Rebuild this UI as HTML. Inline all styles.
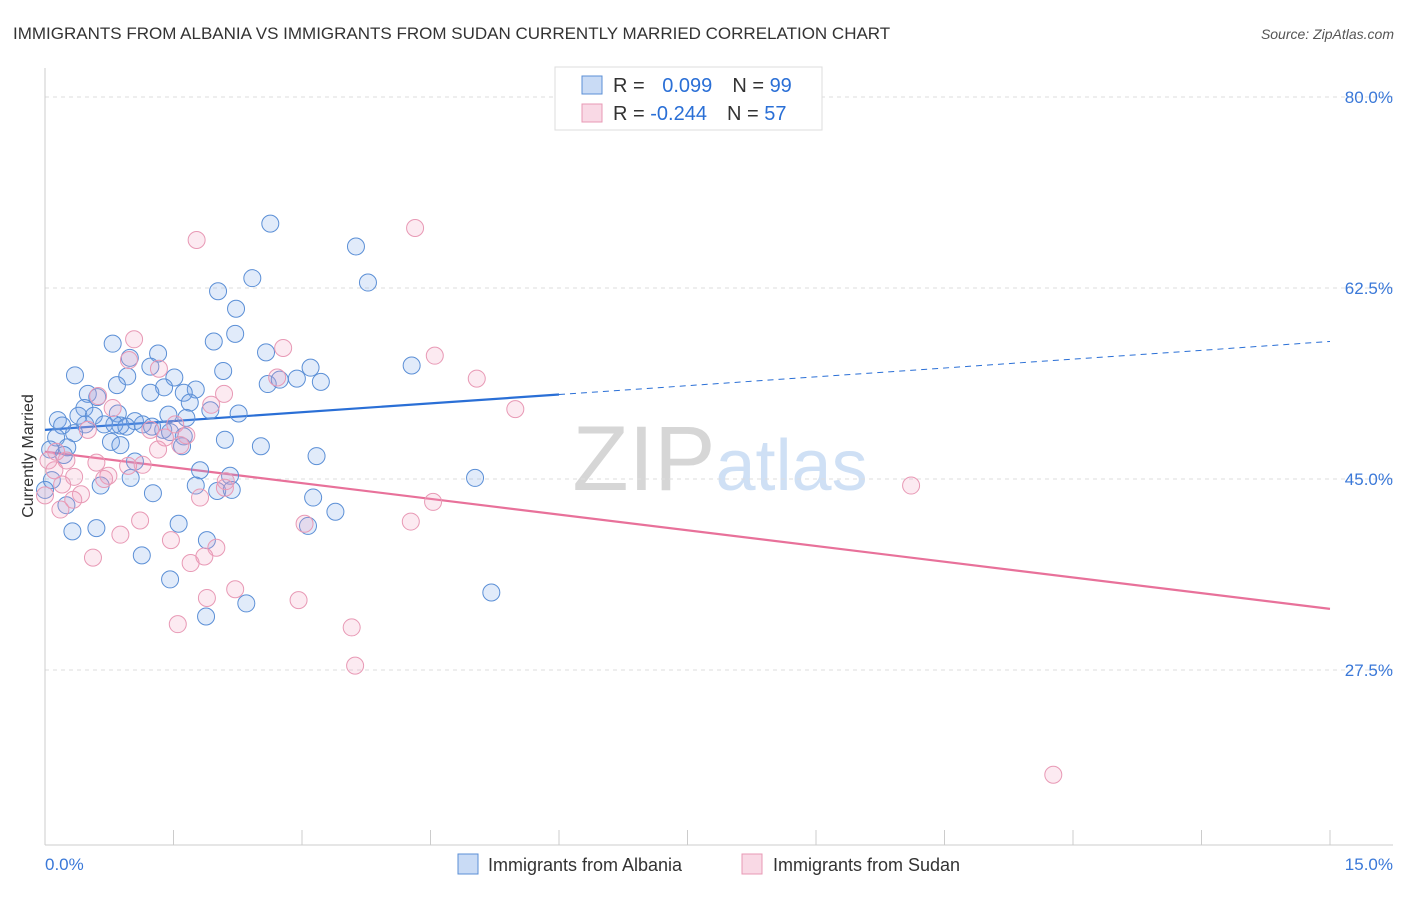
<!DOCTYPE html>
<html><head><meta charset="utf-8"><style>
body{margin:0;background:#fff;font-family:"Liberation Sans",sans-serif;}
svg text{font-family:"Liberation Sans",sans-serif;}
</style></head><body>
<svg id="chart" width="1406" height="892" xmlns="http://www.w3.org/2000/svg">
<text x="13" y="39" font-size="17" fill="#333">IMMIGRANTS FROM ALBANIA VS IMMIGRANTS FROM SUDAN CURRENTLY MARRIED CORRELATION CHART</text>
<text x="1394" y="39" font-size="14" fill="#555" text-anchor="end" font-style="italic">Source: ZipAtlas.com</text>
<text x="720" y="490" font-size="92" text-anchor="middle" fill="#ddd" font-family="Liberation Serif"><tspan fill="#d6d6d6">ZIP</tspan><tspan fill="#cfe0f5" font-family="Liberation Sans" font-size="72">atlas</tspan></text>
<g id="grid"></g>
<g id="axes"></g>
<g id="trend"></g>
<g id="pts"></g>
<text transform="translate(33,456) rotate(-90)" font-size="16" fill="#333" text-anchor="middle">Currently Married</text>
<g>
<rect x="555" y="67" width="267" height="63" fill="#fff" stroke="#ddd"/>
<rect x="582" y="76" width="20" height="18" fill="rgba(120,165,230,0.4)" stroke="#5b8fd6"/>
<rect x="582" y="104" width="20" height="18" fill="rgba(240,160,190,0.4)" stroke="#e899b5"/>
<text x="613" y="92" font-size="20" fill="#333">R = <tspan fill="#2a6fd6" dx="12">0.099</tspan><tspan dx="20" fill="#333">N = </tspan><tspan fill="#2a6fd6">99</tspan></text>
<text x="613" y="120" font-size="20" fill="#333">R = <tspan fill="#2a6fd6">-0.244</tspan><tspan dx="20" fill="#333">N = </tspan><tspan fill="#2a6fd6">57</tspan></text>
</g>
<g>
<rect x="458" y="854" width="20" height="20" fill="rgba(120,165,230,0.4)" stroke="#5b8fd6"/>
<text x="488" y="871" font-size="18" fill="#333">Immigrants from Albania</text>
<rect x="742" y="854" width="20" height="20" fill="rgba(240,160,190,0.4)" stroke="#e899b5"/>
<text x="773" y="871" font-size="18" fill="#333">Immigrants from Sudan</text>
</g>
</svg>
<script>
const yTicks=[80,62.5,45,27.5];
const yTickLabels=["80.0%","62.5%","45.0%","27.5%"];
const xTickCount=10;
const blueX=[2.63,3.63,3.77,2.42,2.02,2.23,2.22,1.97,0.79,1.32,2.58,0.99,1.23,3.10,4.28,0.35,0.96,1.51,2.08,2.94,2.60,3.22,2.74,0.84,1.39,0.50,1.76,1.23,1.62,0.61,0.46,1.69,1.93,2.26,1.44,0.85,0.15,0.39,0.57,0.69,1.05,1.14,1.65,0.88,0.81,0.47,0.20,0.34,1.38,1.25,1.46,1.62,0.95,0.13,0.77,0.88,1.60,2.10,2.52,0.26,0.22,3.17,1.05,1.81,2.16,1.00,0.65,1.76,2.01,2.18,1.26,3.13,5.02,0.25,3.39,3.07,1.56,0.32,0.60,1.89,1.13,1.46,2.35,1.88,5.21,0.08,0.06,0.0];
const blueY=[68.4,66.3,63.0,63.4,62.2,60.6,58.3,57.6,57.4,56.5,56.6,56.1,55.3,55.2,55.4,54.5,54.4,54.3,54.9,54.2,53.7,53.9,54.1,53.6,53.4,52.8,53.2,52.9,52.9,52.5,51.5,52.0,51.3,51.0,50.9,51.0,50.4,50.8,50.8,50.0,50.3,50.0,50.6,49.9,50.0,50.0,49.9,49.2,49.5,49.8,49.3,48.9,49.8,48.8,48.4,48.1,48.0,48.6,48.0,47.9,47.2,47.1,46.6,45.8,45.3,45.1,44.4,44.4,43.9,44.0,43.7,43.3,45.1,42.6,42.0,40.7,40.9,40.2,40.5,39.4,38.0,35.8,33.6,32.4,34.6,44.9,47.7,44.0];
const pinkX=[1.77,4.32,1.04,2.78,4.55,0.98,1.33,2.71,5.04,2.09,0.62,1.94,5.49,0.79,1.23,0.50,1.65,1.40,1.32,0.25,0.11,0.60,0.74,0.69,0.34,1.14,0.97,2.11,0.20,0.42,1.81,0.33,4.53,10.11,1.11,3.03,4.27,0.88,1.47,2.00,1.70,0.56,1.86,1.89,2.22,2.96,1.55,3.58,3.62,11.77,0.0,0.04,0.13,2.10,1.58,0.18,1.52];
const pinkY=[66.9,68.0,57.8,57.0,56.3,55.9,55.1,54.3,54.2,52.8,52.6,51.8,51.4,51.5,49.5,49.5,49.0,48.8,47.7,46.7,45.8,46.5,45.3,45.0,45.2,46.3,46.2,44.8,44.5,43.6,43.3,43.1,42.9,44.4,41.2,40.9,41.1,39.9,39.4,38.7,37.3,37.8,37.9,34.1,34.9,33.9,31.7,31.4,27.9,17.9,43.5,46.7,47.5,44.2,48.1,42.2,50.0];
const blueTrend=[49.5,57.6];
const pinkTrend=[47.5,33.1];
const NS="http://www.w3.org/2000/svg";
const X=v=>45+v/15*1285;
const Y=v=>97+(80-v)/17.5*191;
function mk(t,a,p){const e=document.createElementNS(NS,t);for(const k in a)e.setAttribute(k,a[k]);p.appendChild(e);return e;}
const grid=document.getElementById('grid'),axes=document.getElementById('axes'),trend=document.getElementById('trend'),pts=document.getElementById('pts');
yTicks.forEach((t,i)=>{
 const l=mk('line',{x1:45,x2:1393,y1:Y(t),y2:Y(t),stroke:'#ddd','stroke-dasharray':'4,4'},grid);
 
 
 const tx=mk('text',{x:1393,y:Y(t)+6,'font-size':17,fill:'#3a78d8','text-anchor':'end'},axes);
 tx.textContent=yTickLabels[i];
 
 
});
mk('line',{x1:45,x2:45,y1:68,y2:845,stroke:'#ccc'},axes);
mk('line',{x1:45,x2:1393,y1:845,y2:845,stroke:'#ccc'},axes);
for(let i=0;i<=xTickCount;i++){const xv=i*15/xTickCount;const t=mk('line',{x1:X(xv),x2:X(xv),y1:830,y2:845,stroke:'#ccc'},axes);
 
 }
const xl=mk('text',{x:45,y:870,'font-size':17,fill:'#3a78d8'},axes);xl.textContent='0.0%';


const xr=mk('text',{x:1393,y:870,'font-size':17,fill:'#3a78d8','text-anchor':'end'},axes);xr.textContent='15.0%';


function plot(xs,ys,stroke,fill,name){xs.forEach((x,i)=>{const c=mk('circle',{cx:X(x),cy:Y(ys[i]),r:8.5,fill:fill,stroke:stroke,'stroke-width':1},pts);
 
 });}
plot(blueX,blueY,'#5b8fd6','rgba(120,165,230,0.22)','albania-point');
plot(pinkX,pinkY,'#e899b5','rgba(240,160,190,0.22)','sudan-point');
const bAt=x=>blueTrend[0]+(blueTrend[1]-blueTrend[0])*x/15;
const b1=mk('line',{x1:X(0),y1:Y(bAt(0)),x2:X(6),y2:Y(bAt(6)),stroke:'#2a6fd6','stroke-width':2.2},trend);


const b2=mk('line',{x1:X(6),y1:Y(bAt(6)),x2:X(15),y2:Y(bAt(15)),stroke:'#2a6fd6','stroke-width':1,'stroke-dasharray':'6,5'},trend);


const p1=mk('line',{x1:X(0),y1:Y(pinkTrend[0]),x2:X(15),y2:Y(pinkTrend[1]),stroke:'#e8719a','stroke-width':2.2},trend);


</script>
</body></html>
